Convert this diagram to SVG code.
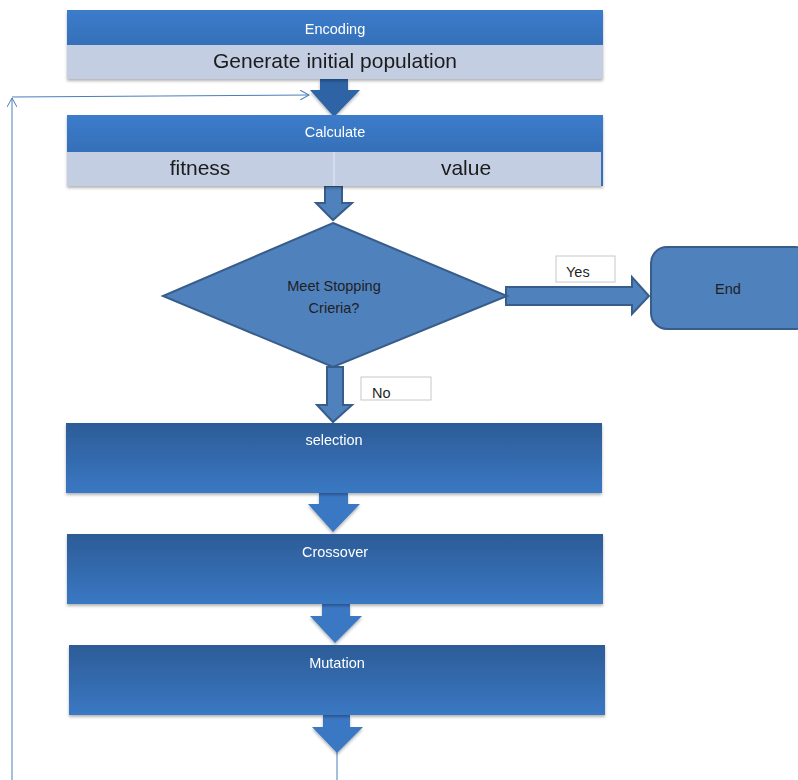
<svg xmlns="http://www.w3.org/2000/svg" width="798" height="780" viewBox="0 0 798 780">
<style>
.lbl{font-family:"Liberation Sans",Arial,sans-serif;}
.w{fill:#ffffff;font-size:14.5px;text-anchor:middle;}
.big{fill:#1a1a1a;font-size:21px;text-anchor:middle;}
.dk{fill:#1f1f1f;font-size:14.5px;}
.band{fill:#3a78c6;}
.light{fill:#c3cee3;}
.gbox{fill:url(#g);}
.shape{fill:#4f81bd;stroke:#385d8a;stroke-width:2;}
.barrow{fill:#3a78c3;}
.tag{fill:#ffffff;stroke:#c8c8c8;stroke-width:1;}
.fb{stroke:#4a7ebb;stroke-width:1;fill:none;}
</style>
<defs>
<linearGradient id="g" x1="0" y1="0" x2="0" y2="1">
<stop offset="0" stop-color="#2c5c97"/>
<stop offset="1" stop-color="#3a78c3"/>
</linearGradient>
<linearGradient id="gt" x1="0" y1="0" x2="0" y2="1">
<stop offset="0" stop-color="#3c7ccb"/>
<stop offset="1" stop-color="#3570b8"/>
</linearGradient>
<filter id="sh" x="-5%" y="-10%" width="110%" height="130%">
<feDropShadow dx="0" dy="2" stdDeviation="1.5" flood-color="#000000" flood-opacity="0.3"/>
</filter>
<marker id="open" viewBox="0 0 10 10" refX="9" refY="5" markerWidth="10" markerHeight="10" markerUnits="userSpaceOnUse" orient="auto">
<path d="M0,0 L9,5 L0,10" fill="none" stroke="#4a7ebb" stroke-width="1"/>
</marker>
</defs>

<g id="connectors">
<path class="fb" d="M12,780 L12,98" marker-end="url(#open)"/>
<path class="fb" d="M12,97 L309,95" marker-end="url(#open)"/>
<line class="fb" x1="337" y1="752" x2="337" y2="780"/>
<polygon fill="#2f64a6" filter="url(#sh)" points="320,79 348,79 348,90 360,90 334,117 310,90 320,90"/>
<polygon class="shape" points="325,186 342,186 342,203 352,203 333,220 316,203 325,203"/>
<polygon class="shape" points="327,367 343,367 343,405 352,405 333,422 317,405 327,405"/>
<polygon class="shape" points="506,287 632,287 632,277 649,296 632,314 632,305 506,305"/>
<polygon class="barrow" filter="url(#sh)" points="319,493 348,493 348,504 360,504 333,532 308,504 319,504"/>
<polygon class="barrow" filter="url(#sh)" points="322,604 350,604 350,616 362,616 335,643 310,616 322,616"/>
<polygon class="barrow" filter="url(#sh)" points="323,715 350,715 350,727 363,727 337,753 312,727 323,727"/>
</g>

<g id="encoding" filter="url(#sh)">
<rect x="67" y="10" width="536" height="35" fill="url(#gt)"/>
<rect class="light" x="67" y="45" width="536" height="34"/>
<text class="lbl w" x="335" y="34">Encoding</text>
<text class="lbl big" x="335" y="68">Generate initial population</text>
</g>

<g id="calculate" filter="url(#sh)">
<rect x="67" y="115" width="536" height="37" fill="url(#gt)"/>
<rect class="light" x="67" y="152" width="266" height="34"/>
<rect class="light" x="335" y="152" width="266" height="34"/>
<rect x="333" y="152" width="2" height="34" fill="#d4dced"/>
<rect x="601" y="152" width="2" height="34" fill="#3570b8"/>
<text class="lbl w" x="335" y="137">Calculate</text>
<text class="lbl big" x="200" y="175">fitness</text>
<text class="lbl big" x="466" y="175">value</text>
</g>

<g id="decision">
<polygon class="shape" points="333,223 507,296 333,367 163,296"/>
<text class="lbl dk" x="334" y="291" text-anchor="middle">Meet Stopping</text>
<text class="lbl dk" x="334" y="313" text-anchor="middle">Crieria?</text>
</g>

<g id="yes-label">
<rect class="tag" x="556" y="256" width="59" height="26"/>
<text class="lbl dk" x="566" y="277">Yes</text>
</g>

<g id="no-label">
<rect class="tag" x="361" y="377" width="70" height="23"/>
<text class="lbl dk" x="372" y="398">No</text>
</g>

<g id="end">
<rect class="shape" x="651" y="247" width="160" height="82" rx="16" ry="16"/>
<text class="lbl dk" x="728" y="294" text-anchor="middle">End</text>
</g>

<g id="selection" filter="url(#sh)">
<rect class="gbox" x="66" y="423" width="536" height="70"/>
<text class="lbl w" x="334" y="445">selection</text>
</g>

<g id="crossover" filter="url(#sh)">
<rect class="gbox" x="67" y="534" width="536" height="70"/>
<text class="lbl w" x="335" y="557">Crossover</text>
</g>

<g id="mutation" filter="url(#sh)">
<rect class="gbox" x="69" y="645" width="536" height="70"/>
<text class="lbl w" x="337" y="668">Mutation</text>
</g>
</svg>
